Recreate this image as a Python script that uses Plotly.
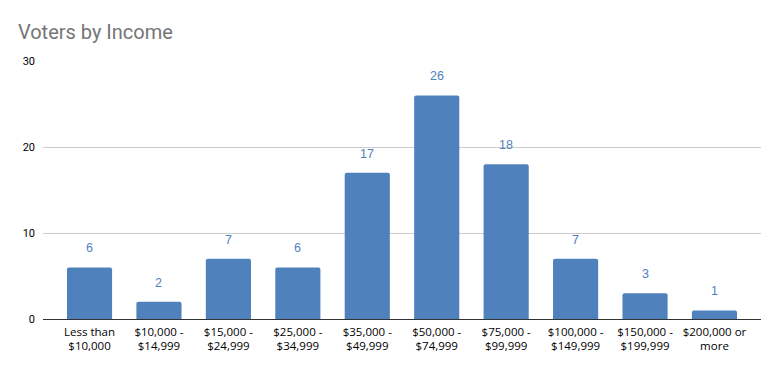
import plotly.graph_objects as go

categories = ["Less than<br>$10,000", "$10,000 -<br>$14,999", "$15,000 -<br>$24,999",
              "$25,000 -<br>$34,999", "$35,000 -<br>$49,999", "$50,000 -<br>$74,999",
              "$75,000 -<br>$99,999", "$100,000 -<br>$149,999", "$150,000 -<br>$199,999",
              "$200,000 or<br>more"]
voters = [6, 2, 7, 6, 17, 26, 18, 7, 3, 1]
y_ticks = [0, 10, 20, 30]

x_idx = list(range(len(categories)))

fig = go.Figure()
fig.add_trace(go.Bar(x=x_idx, y=voters, width=0.65,
                     marker=dict(color="#4f81bd", cornerradius=2, line=dict(width=0)),
                     hoverinfo="skip"))
for i, v in zip(x_idx, voters):
    fig.add_annotation(x=i, y=v, text=str(v), showarrow=False, yshift=19,
                       font=dict(family="Arial, Liberation Sans, sans-serif", size=12.5,
                                 color="#4f81bd"))

fig.update_layout(
    width=779, height=371,
    margin=dict(l=43, r=18, t=61, b=52),
    paper_bgcolor="white", plot_bgcolor="white",
    showlegend=False,
    title=dict(text="Voters by Income", x=0.023, xanchor="left", y=0.915, yanchor="middle",
               font=dict(family="Roboto, Arial, sans-serif", size=20, color="#757575")),
    xaxis=dict(range=[-0.67, 9.67], tickvals=x_idx, ticktext=categories,
               showgrid=False, zeroline=False, showline=False, ticks="",
               ticklabelstandoff=4,
               tickfont=dict(family="Open Sans, sans-serif", size=11.5, color="#000000")),
    yaxis=dict(range=[0, 30], tickvals=y_ticks, showgrid=True, gridcolor="#cccccc",
               gridwidth=1, zeroline=True, zerolinecolor="#333333", zerolinewidth=1,
               ticks="", ticklabelstandoff=7,
               tickfont=dict(family="Roboto, Arial, sans-serif", size=11, color="#000000")),
)
fig.write_html("out.html", config={"displayModeBar": False},
               post_script="document.body.style.margin='0';document.body.style.padding='0';")
